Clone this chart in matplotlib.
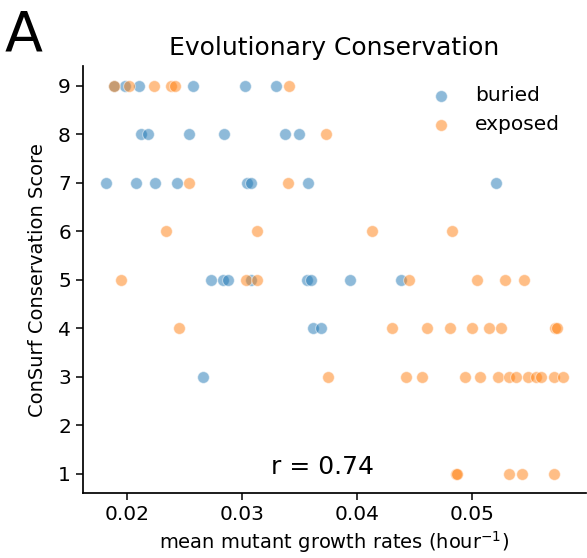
import matplotlib
matplotlib.use("Agg")
import matplotlib.pyplot as plt
import numpy as np

BURIED_X = [0.01887, 0.01983, 0.02107, 0.02576, 0.03025, 0.03295,
            0.02122, 0.02180, 0.02541, 0.02843, 0.03373, 0.03494,
            0.01815, 0.02075, 0.02243, 0.02437, 0.03040, 0.03075, 0.03575, 0.05206,
            0.02730, 0.02831, 0.02875, 0.03075, 0.03561, 0.03599, 0.03937, 0.04380,
            0.03619, 0.03683,
            0.02663]
BURIED_Y = [9, 9, 9, 9, 9, 9,
            8, 8, 8, 8, 8, 8,
            7, 7, 7, 7, 7, 7, 7, 7,
            5, 5, 5, 5, 5, 5, 5, 5,
            4, 4,
            3]

EXPOSED_X = [0.01887, 0.02017, 0.02235, 0.02382, 0.02417, 0.03410,
             0.03726,
             0.02541, 0.03396,
             0.02336, 0.03132, 0.04126, 0.04827,
             0.01945, 0.03034, 0.03132, 0.04450, 0.05038, 0.05284, 0.05449,
             0.02449, 0.04300, 0.04609, 0.04806, 0.04997, 0.05145, 0.05252, 0.05720, 0.05734,
             0.03746, 0.04421, 0.04566, 0.04937, 0.05067, 0.05226, 0.05322, 0.05380,
             0.05481, 0.05553, 0.05594, 0.05710, 0.05785,
             0.04860, 0.04870, 0.05322, 0.05429, 0.05710]
EXPOSED_Y = [9, 9, 9, 9, 9, 9,
             8,
             7, 7,
             6, 6, 6, 6,
             5, 5, 5, 5, 5, 5, 5,
             4, 4, 4, 4, 4, 4, 4, 4, 4,
             3, 3, 3, 3, 3, 3, 3, 3,
             3, 3, 3, 3, 3,
             1, 1, 1, 1, 1]

R_VALUE = 0.74
X_TICKS = [0.02, 0.03, 0.04, 0.05]
Y_TICKS = list(range(1, 10))

fig = plt.figure(figsize=(5.87, 5.58), dpi=100)
ax = fig.add_axes([0.1409, 0.1165, 0.8566, 0.7647])

ax.scatter(BURIED_X, BURIED_Y, s=72, color="#1f77b4", alpha=0.5,
           edgecolor="white", linewidth=0.75, label="buried")
ax.scatter(EXPOSED_X, EXPOSED_Y, s=72, color="#ff7f0e", alpha=0.5,
           edgecolor="white", linewidth=0.75, label="exposed")

ax.set_xticks(X_TICKS)
ax.set_xticklabels(["%.2f" % t for t in X_TICKS])
ax.set_yticks(Y_TICKS)
ax.tick_params(labelsize=14.5, length=5, width=1.1)
ax.tick_params(axis="x", pad=4)
for side in ["top", "right"]:
    ax.spines[side].set_visible(False)
for side in ["left", "bottom"]:
    ax.spines[side].set_linewidth(1.25)

ax.set_xlabel("mean mutant growth rates (hour$^{-1}$)", fontsize=14, labelpad=3)
ax.set_ylabel("ConSurf Conservation Score", fontsize=14, labelpad=8)
ax.set_title("Evolutionary Conservation", fontsize=18, pad=8)

ax.text(0.037, 1.0, "r = %.2f" % R_VALUE, fontsize=18, ha="center", va="baseline")

ax.legend(loc="upper right", frameon=False, fontsize=14.5,
          bbox_to_anchor=(0.99, 1.0), handletextpad=0.7, borderaxespad=0.6)

fig.text(0.008, 0.91, "A", fontsize=40, va="baseline", ha="left")

fig.savefig("out.png", dpi=100)
